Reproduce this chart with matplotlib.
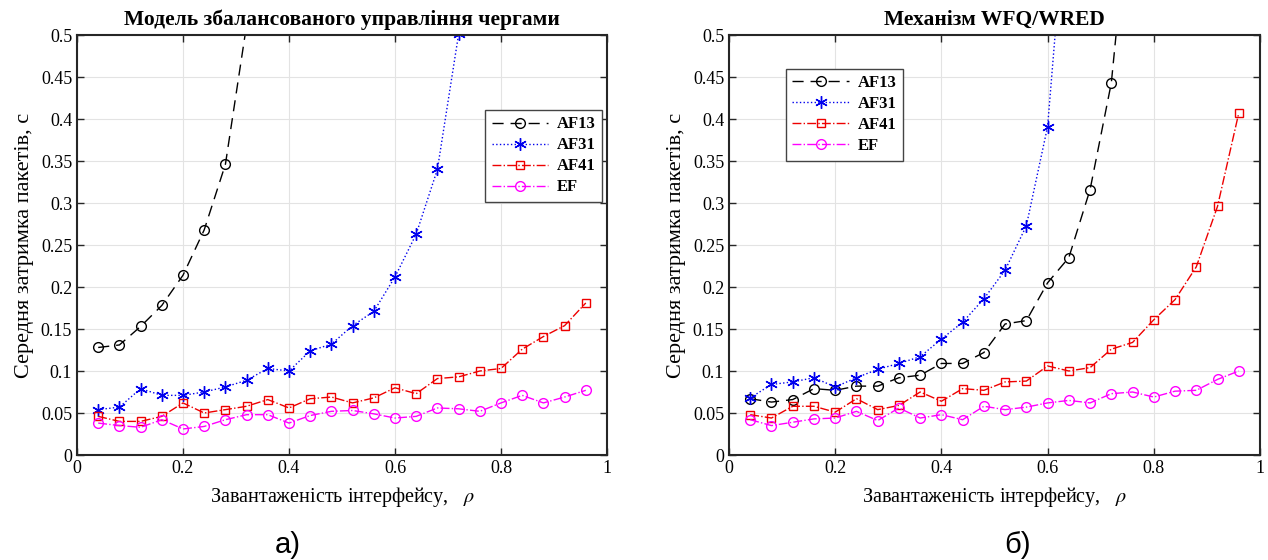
import numpy as np
import matplotlib
matplotlib.use("Agg")
import matplotlib.pyplot as plt

plt.rcParams['font.family'] = ['Liberation Serif', 'DejaVu Serif']
plt.rcParams['mathtext.fontset'] = 'stix'

# ================================
# DATA
# ================================
rho = [0.04, 0.08, 0.12, 0.16, 0.20, 0.24, 0.28, 0.32, 0.36, 0.40, 0.44, 0.48,
       0.52, 0.56, 0.60, 0.64, 0.68, 0.72, 0.76, 0.80, 0.84, 0.88, 0.92, 0.96]

# a) balanced queue management model (values above 0.5 are clipped by the axes)
a_af13 = [0.128, 0.131, 0.153, 0.178, 0.214, 0.268, 0.346, 0.512, 0.80]
a_af31 = [0.054, 0.057, 0.079, 0.071, 0.071, 0.075, 0.081, 0.089, 0.103, 0.100,
          0.124, 0.132, 0.154, 0.171, 0.212, 0.263, 0.340, 0.501, 0.80]
a_af41 = [0.046, 0.040, 0.040, 0.046, 0.062, 0.050, 0.054, 0.058, 0.066, 0.056,
          0.067, 0.069, 0.062, 0.068, 0.080, 0.073, 0.091, 0.093, 0.100, 0.103,
          0.126, 0.141, 0.154, 0.181]
a_ef = [0.038, 0.035, 0.033, 0.042, 0.031, 0.034, 0.042, 0.048, 0.048, 0.038,
        0.047, 0.052, 0.053, 0.049, 0.044, 0.046, 0.056, 0.055, 0.052, 0.062,
        0.071, 0.062, 0.069, 0.077]

# b) WFQ/WRED
b_af13 = [0.067, 0.063, 0.066, 0.079, 0.077, 0.082, 0.082, 0.092, 0.095, 0.109,
          0.109, 0.122, 0.156, 0.160, 0.205, 0.235, 0.316, 0.443, 0.70]
b_af31 = [0.068, 0.084, 0.087, 0.092, 0.081, 0.092, 0.102, 0.109, 0.117, 0.138,
          0.158, 0.186, 0.220, 0.273, 0.391, 0.70]
b_af41 = [0.048, 0.044, 0.058, 0.058, 0.051, 0.067, 0.054, 0.059, 0.075, 0.064,
          0.079, 0.077, 0.087, 0.088, 0.106, 0.100, 0.104, 0.126, 0.134, 0.161,
          0.185, 0.224, 0.296, 0.407]
b_ef = [0.042, 0.035, 0.039, 0.043, 0.044, 0.052, 0.041, 0.056, 0.044, 0.048,
        0.042, 0.058, 0.054, 0.057, 0.062, 0.065, 0.062, 0.073, 0.075, 0.069,
        0.076, 0.077, 0.090, 0.100]

labels = ['AF13', 'AF31', 'AF41', 'EF']
titles = ['Модель збалансованого управління чергами', 'Механізм WFQ/WRED']
captions = ['а)', 'б)']

# MATLAB-like line specs: '--o', ':*', '-.s', '-.o'
styles = [dict(color='black', ls=(0, (8, 5)), marker='o', mfc='none', ms=7),
          dict(color='#0000ee', ls=':', marker=(6, 2, 0), mfc='#0000ee', ms=9),
          dict(color='#ee0000', ls='-.', marker='s', mfc='none', ms=6),
          dict(color='#ff00ff', ls='-.', marker='o', mfc='none', ms=7)]

# ================================
# PLOT
# ================================
fig = plt.figure(figsize=(12.68, 5.6), dpi=100)
W, H = 1268, 560
ax_a = fig.add_axes([77 / W, 1 - 455 / H, 530 / W, 420 / H])
ax_b = fig.add_axes([729 / W, 1 - 455 / H, 531 / W, 420 / H])

series = [[a_af13, a_af31, a_af41, a_ef], [b_af13, b_af31, b_af41, b_ef]]
legend_locs = [(0.770, 0.602), (0.107, 0.70)]
caption_x = [288, 1018]

for i, ax in enumerate([ax_a, ax_b]):
    for ys, lab, st in zip(series[i], labels, styles):
        ax.plot(rho[:len(ys)], ys, label=lab, lw=1.0, ms=st['ms'], mew=1.0,
                color=st['color'], linestyle=st['ls'],
                marker=st['marker'], markerfacecolor=st['mfc'])
    ax.set_xlim(0, 1)
    ax.set_ylim(0, 0.5)
    ax.set_xticks(np.arange(0, 1.01, 0.2))
    ax.set_xticklabels(['0', '0.2', '0.4', '0.6', '0.8', '1'])
    ax.set_yticks(np.arange(0, 0.501, 0.05))
    ax.set_yticklabels(['0', '0.05', '0.1', '0.15', '0.2', '0.25', '0.3',
                        '0.35', '0.4', '0.45', '0.5'])
    ax.grid(True, color='#e3e3e3', lw=0.8)
    ax.tick_params(direction='in', top=True, right=True, labelsize=13,
                   length=5, width=1, colors='#262626', labelcolor='black')
    for s in ax.spines.values():
        s.set_linewidth(1.5)
        s.set_color('#262626')
    ax.set_title(titles[i], fontsize=15.5, fontweight='bold', pad=7)
    ax.set_xlabel('Завантаженість інтерфейсу,   $\\rho$', fontsize=14.5, labelpad=6)
    ax.set_ylabel('Середня затримка пакетів, с', fontsize=16, labelpad=5)
    leg = ax.legend(loc='lower left', bbox_to_anchor=legend_locs[i],
                    prop={'weight': 'bold', 'size': 12}, borderaxespad=0,
                    fancybox=False, framealpha=1, edgecolor='#444444',
                    handlelength=3.4, borderpad=0.4, labelspacing=0.3,
                    handletextpad=0.5)
    leg.get_frame().set_linewidth(1.0)
    fig.text(caption_x[i] / W, 1 - 545 / H, captions[i],
             fontsize=21, ha='center', va='center', family='Liberation Sans')

plt.savefig('out.png', dpi=100)
